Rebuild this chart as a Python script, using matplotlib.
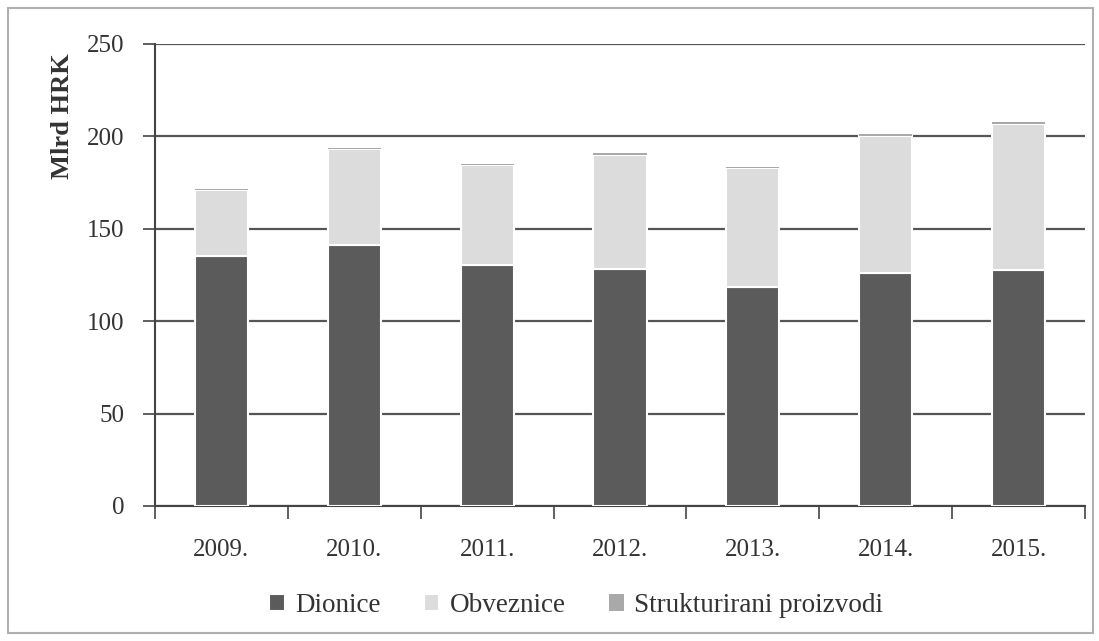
import numpy as np
import matplotlib.pyplot as plt
from matplotlib.patches import Rectangle

# podaci (mlrd HRK)
godine = ["2009.", "2010.", "2011.", "2012.", "2013.", "2014.", "2015."]
dionice = [135.3, 141.0, 130.5, 128.0, 118.5, 126.0, 127.7]
obveznice = [35.9, 52.2, 54.2, 62.0, 64.6, 74.3, 79.1]
strukturirani = [0.3, 0.3, 0.3, 1.0, 0.5, 1.0, 1.2]

plt.rcParams['font.family'] = ['Liberation Serif', 'DejaVu Serif']

fig = plt.figure(figsize=(10.99, 6.41), dpi=100)
ax = fig.add_axes([155/1099, 1 - 506/641, 930/1099, 462/641])

x = np.arange(len(godine))
w = 0.4
c_d, c_o, c_s = '#5b5b5b', '#dcdcdc', '#a9a9a9'
b1 = np.array(dionice)
b2 = b1 + np.array(obveznice)
ax.bar(x, dionice, w, color=c_d, edgecolor='white', linewidth=1.5, label='Dionice', zorder=3)
ax.bar(x, obveznice, w, bottom=b1, color=c_o, edgecolor='white', linewidth=1.5, label='Obveznice', zorder=3)
ax.bar(x, strukturirani, w, bottom=b2, color=c_s, edgecolor='none', label='Strukturirani proizvodi', zorder=3)

ax.set_xlim(-0.5, len(godine) - 0.5)
ax.set_ylim(0, 250)
ax.set_yticks(range(0, 251, 50))
ax.yaxis.grid(True, color='#555555', linewidth=1.6, zorder=0)
ax.set_axisbelow(True)

ax.set_xticks(x)
ax.set_xticklabels(godine, fontsize=18, color='#333333')
ax.set_xticks(np.arange(-0.5, len(godine)), minor=True)
ax.tick_params(axis='x', which='major', length=0, pad=24)
ax.tick_params(axis='x', which='minor', length=9, width=1.2, color='#444444')
ax.tick_params(axis='y', labelsize=18, length=9, width=1.2, color='#444444', labelcolor='#333333', pad=13)

for s in ['top', 'right']:
    ax.spines[s].set_visible(False)
ax.spines['left'].set_color('#444444')
ax.spines['left'].set_linewidth(1.5)
ax.spines['bottom'].set_color('#444444')
ax.spines['bottom'].set_linewidth(1.5)

ax.set_ylabel('Mlrd HRK', fontsize=19, fontweight='bold', color='#333333')
ax.yaxis.set_label_coords(-0.087, 0.844)

ax.legend(loc='center', bbox_to_anchor=(0.453, -0.215), ncol=3, frameon=False,
          fontsize=19.5, handlelength=0.57, handleheight=0.57, handletextpad=0.38,
          columnspacing=1.6, labelcolor='#333333')

# okvir slike
fig.patches.append(Rectangle((8/1099, 8/641), 1085/1099, 625/641, transform=fig.transFigure,
                             fill=False, edgecolor='#b0b0b0', linewidth=1.5))

fig.savefig('out.png', dpi=100)
